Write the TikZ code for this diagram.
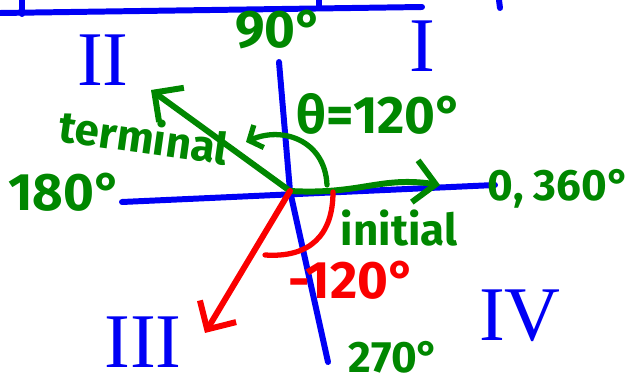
\documentclass[tikz,border=0pt]{standalone}
\usepackage{fontspec}
\setmainfont{Fira Sans}
\newfontfamily\numeralfont{Liberation Serif}
\usepackage{tikz}
\usetikzlibrary{arrows.meta, positioning}
\usepackage{xcolor}
\definecolor{penblue}{RGB}{0,0,245}
\definecolor{pengreen}{RGB}{0,135,0}
\definecolor{penred}{RGB}{250,0,0}

\begin{document}
\begin{tikzpicture}[
    x=0.01cm, y=-0.01cm,
    axis/.style={penblue, line width=1.7pt, line cap=round},
    quad/.style={
        text=penblue, inner sep=0pt,
        font=\numeralfont\fontsize{22}{24}\selectfont
    },
    lbl/.style={text=pengreen, inner sep=0pt, font=\bfseries\fontsize{15}{17}\selectfont},
    small/.style={lbl, font=\bfseries\fontsize{12.5}{14}\selectfont},
    neglbl/.style={lbl, text=penred},
    ray/.style={pengreen, line width=1.7pt, line cap=round,
        -{Straight Barb[length=6pt, width=12pt]}},
    negray/.style={ray, penred},
    sweep/.style={pengreen, line width=1.5pt, line cap=round,
        -{Straight Barb[length=3pt, width=7pt]}},
    negsweep/.style={penred, line width=1.5pt, line cap=round},
]
\useasboundingbox (0,0) rectangle (633,382);

% ── Axes ──────
\coordinate (O) at (290,191);
\coordinate (xl) at (122,202);
\coordinate (xr) at (495,185);
\coordinate (yt) at (279,62);
\coordinate (yb) at (328,362);
\draw[axis] (xl) -- (xr);
\draw[axis] (yt) -- (O) -- (yb);

% ── Title rule (cut off) ──────
\coordinate (tl) at (0,13);
\coordinate (tr) at (422,7);
\draw[axis] (tl) -- (tr);
\draw[axis] (22,0) -- (22,14);
\draw[axis] (319,0) -- (319,8);
\draw[axis] (499,0) -- (500,8);

% ── Quadrants ──────
\node[quad] (quadI) at (422,46) {I};
\node[quad] (quadII) at (103,60) {II};
\node[quad] (quadIII) at (143,342) {III};
\node[quad] (quadIV) at (520,316) {IV};

% ── Axis angles ──────
\node[lbl, above=0.12cm of yt] (ninety) {90°};
\node[small, anchor=east] (zero) at (631,189) {0, 360°};
\node[small, right=0.2cm of yb, yshift=0.05cm] (twoseventy) {270°};
\node[lbl] (oneeighty) at (65,192) {180°};

% ── Positive angle ──────
\coordinate (init) at (440,185);
\coordinate (term) at (151,90);
\coordinate (sw1) at (327,185);
\coordinate (sw2) at (246,142);
\draw[ray] (O) .. controls (360,195) and (380,176) .. (init);
\draw[ray] (O) -- (term);
\draw[sweep] (sw1) .. controls (325,140) and (282,126) .. (sw2);
\node[small, rotate=-8] (terminal) at (144,136) {terminal};
\node[small] (initial) at (399,228) {initial};
\node[lbl] (theta) at (380,114) {θ=120°};

% ── Negative angle ──────
\coordinate (negterm) at (205,333);
\coordinate (nsw1) at (333,192);
\coordinate (nsw2) at (265,255);
\draw[negray] (O) -- (negterm);
\draw[negsweep] (nsw1) .. controls (333,235) and (310,258) .. (nsw2);
\node[neglbl] (negtheta) at (352,280) {-120°};

\end{tikzpicture}
\end{document}
